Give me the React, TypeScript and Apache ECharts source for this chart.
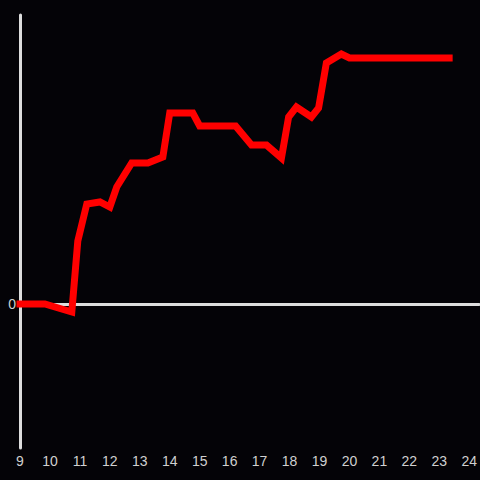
import React, { useEffect, useRef } from "react";
import * as echarts from "echarts";

const times = [9.0, 9.83, 10.73, 10.93, 11.23, 11.67, 12.0, 12.23, 12.73, 13.27, 13.77, 14.0, 14.77, 15.0, 16.2, 16.73, 17.23, 17.73, 17.97, 18.23, 18.73, 18.97, 19.23, 19.73, 20.0, 23.33];
const values = [0, 0, -8, 63, 100, 102, 97, 117, 141, 141, 147, 191, 191, 178, 178, 159, 159, 146, 187, 197, 187, 196, 241, 250, 246, 246];
const yLabelValues = [0];

export default function App() {
  const ref = useRef<HTMLDivElement>(null);
  useEffect(() => {
    if (!ref.current) return;
    const chart = echarts.init(ref.current, null, { renderer: "svg" });
    const labelStyle = { color: "#d0d0d0", fontSize: 14, fontFamily: "Liberation Sans, Arial, sans-serif" };
    chart.setOption({
      animation: false,
      backgroundColor: "#040307",
      grid: { left: 20, right: 0, top: 15, bottom: 32 },
      xAxis: [
        {
          type: "value",
          min: 9,
          max: 24.333,
          interval: 1,
          axisLine: { show: true, onZero: true, lineStyle: { color: "#dddddd", width: 3 } },
          axisTick: { show: false },
          axisLabel: { show: false },
          splitLine: { show: false },
        },
        {
          type: "value",
          position: "bottom",
          min: 9,
          max: 24.333,
          interval: 1,
          axisLine: { show: false, onZero: false },
          axisTick: { show: false },
          axisLabel: { ...labelStyle, margin: 6, showMaxLabel: false },
          splitLine: { show: false },
        },
      ],
      yAxis: {
        type: "value",
        min: -144,
        max: 289,
        axisLine: { show: true, onZero: false, lineStyle: { color: "#dddddd", width: 3 } },
        axisTick: { show: false },
        splitLine: { show: false },
        axisLabel: { ...labelStyle, margin: 4, customValues: yLabelValues },
      },
      series: [
        {
          type: "line",
          xAxisIndex: 0,
          data: times.map((t, i) => [t, values[i]]),
          showSymbol: false,
          symbol: "none",
          lineStyle: { color: "#ff0000", width: 7, cap: "square", join: "miter" },
        },
      ],
    });
    return () => chart.dispose();
  }, []);
  return <div ref={ref} style={{ width: 480, height: 480, position: "absolute", left: 0, top: 0 }} />;
}
